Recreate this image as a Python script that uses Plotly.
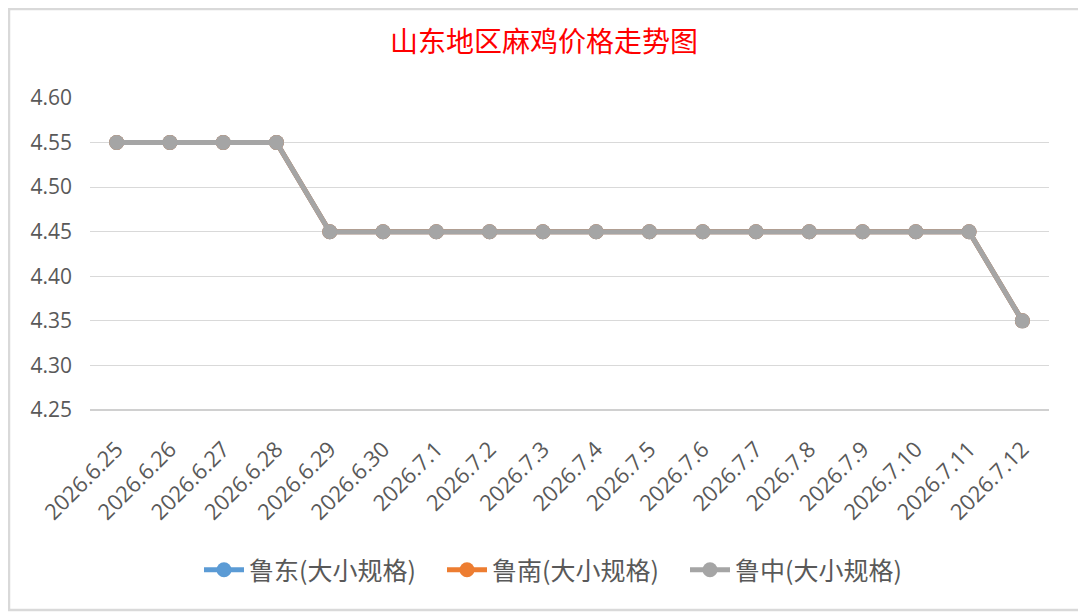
import plotly.graph_objects as go

# dates and prices (yuan/jin), all three regions share the same quotes
dates = ["2026.6.25", "2026.6.26", "2026.6.27", "2026.6.28", "2026.6.29", "2026.6.30",
         "2026.7.1", "2026.7.2", "2026.7.3", "2026.7.4", "2026.7.5", "2026.7.6",
         "2026.7.7", "2026.7.8", "2026.7.9", "2026.7.10", "2026.7.11", "2026.7.12"]
ludong = [4.55, 4.55, 4.55, 4.55, 4.45, 4.45, 4.45, 4.45, 4.45, 4.45, 4.45, 4.45,
          4.45, 4.45, 4.45, 4.45, 4.45, 4.35]
lunan = [4.55, 4.55, 4.55, 4.55, 4.45, 4.45, 4.45, 4.45, 4.45, 4.45, 4.45, 4.45,
         4.45, 4.45, 4.45, 4.45, 4.45, 4.35]
luzhong = [4.55, 4.55, 4.55, 4.55, 4.45, 4.45, 4.45, 4.45, 4.45, 4.45, 4.45, 4.45,
           4.45, 4.45, 4.45, 4.45, 4.45, 4.35]
y_ticks = [4.25, 4.30, 4.35, 4.40, 4.45, 4.50, 4.55, 4.60]

series = [
    ("鲁东(大小规格)", ludong, "#5B9BD5"),
    ("鲁南(大小规格)", lunan, "#ED7D31"),
    ("鲁中(大小规格)", luzhong, "#A5A5A5"),
]

fig = go.Figure()
for name, vals, color in series:
    fig.add_trace(go.Scatter(
        x=dates, y=vals, name=name, mode="lines+markers",
        line=dict(color=color, width=5),
        marker=dict(color=color, size=15),
    ))

# the page body adds an 8px offset, so the figure is 8px smaller each way
W, H = 1078, 607
L, R, T, B = 82, 37, 90, 205
pw, ph = W - L - R, H - T - B

fig.update_layout(
    width=W, height=H,
    margin=dict(l=L, r=R, t=T, b=B),
    paper_bgcolor="white", plot_bgcolor="white",
    font=dict(family="Open Sans, Noto Sans CJK SC", color="#595959"),
    title=dict(text="山东地区麻鸡价格走势图", x=0.5 - 3 / W, xanchor="center",
               y=1 - 34 / H, yanchor="middle",
               font=dict(family="Noto Sans CJK SC", size=28, color="#FF0000")),
    legend=dict(orientation="h", x=0.5 - 6 / pw, xanchor="center", y=-(562 - 402) / ph,
                yanchor="middle", font=dict(family="Noto Sans CJK SC", size=25, color="#595959"),
                itemwidth=40, entrywidth=188, tracegroupgap=0),
    showlegend=True,
    xaxis=dict(type="category", range=[-0.5, len(dates) - 0.5], tickangle=-45,
               showgrid=False, showline=False, zeroline=False, ticks="",
               tickfont=dict(family="Open Sans", size=22, color="#595959"),
               ticklabelstandoff=21),
    yaxis=dict(range=[4.25, 4.60], tickvals=y_ticks, ticktext=[f"{v:.2f}" for v in y_ticks],
               showgrid=True, gridcolor="#D9D9D9", gridwidth=1.3, zeroline=False,
               showline=False, ticks="",
               tickfont=dict(family="Open Sans", size=21, color="#595959"),
               ticklabelstandoff=17),
    shapes=[
        # bottom axis line
        dict(type="line", xref="paper", yref="paper", x0=0, x1=1, y0=0, y1=0,
             line=dict(color="#D0D0D0", width=2)),
        # chart border
        dict(type="rect", xref="paper", yref="paper",
             x0=(1 - L) / pw, x1=(1073 - L) / pw,
             y0=-(602 - T - ph) / ph, y1=1 + (T - 1) / ph,
             line=dict(color="#D9D9D9", width=2.5)),
    ],
)

fig.write_html("out.html")
